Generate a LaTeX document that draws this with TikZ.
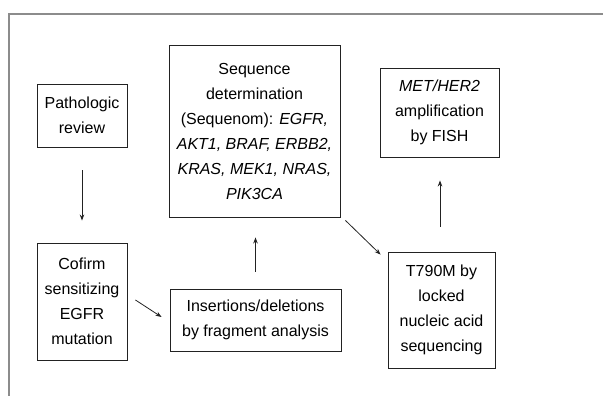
\documentclass[tikz,border=0pt]{standalone}
\usepackage{fontspec}
\setmainfont{Liberation Sans}
\usetikzlibrary{arrows.meta,calc}
\definecolor{framegray}{HTML}{8C8C8C}
\definecolor{boxline}{HTML}{222222}
\begin{document}
\begin{tikzpicture}[x=1pt,y=1pt,
  stepbox/.style={draw=boxline,line width=0.9pt,fill=white,align=center,
    inner sep=0pt,font=\fontsize{16}{25}\selectfont},
  flow/.style={draw=boxline,line width=0.8pt,-{Stealth[length=6pt,width=4.5pt]}}]
\useasboundingbox (0,0) rectangle (603,396);
% outer frame (top and left edges)
\draw[framegray,line width=2pt] (9,0) -- (9,382) -- (603,382);
% process steps
\node[stepbox,minimum width=90pt,minimum height=63pt] (path) at (82,280.5)
  {Pathologic\\review};
\node[stepbox,minimum width=90pt,minimum height=117pt] (cof) at (82,94.5)
  {Cofirm\\sensitizing\\EGFR\\mutation};
\node[stepbox,minimum width=171pt,minimum height=172pt] (seq) at (254.5,265)
  {Sequence\\determination\\(Sequenom): \textit{EGFR,}\\\textit{AKT1, BRAF, ERBB2,}\\\textit{KRAS, MEK1, NRAS,}\\\textit{PIK3CA}};
\node[stepbox,minimum width=119pt,minimum height=89pt] (met) at (439.5,283.5)
  {\textit{MET/HER2}\\amplification\\by FISH};
\node[stepbox,minimum width=171pt,minimum height=62pt] (ins) at (255.5,76)
  {Insertions/deletions\\by fragment analysis};
\node[stepbox,minimum width=107pt,minimum height=116pt] (t790) at (441.5,86)
  {T790M by\\locked\\nucleic acid\\sequencing};
% connectors
\draw[flow,shorten <=23pt,shorten >=22pt] (path.south) -- (cof.north);
\draw[flow] ($(cof.east)+(8,1.5)$) -- ($(ins.west)+(-8,3)$);
\draw[flow,shorten <=17pt,shorten >=20pt] (ins.north) -- (ins.north |- seq.south);
\draw[flow] ($(seq.south east)+(5,-3)$) -- ($(t790.north west)+(-7,-3)$);
\draw[flow,shorten <=25pt,shorten >=23pt] (t790.north -| 440,0) -- (met.south -| 440,0);
\end{tikzpicture}
\end{document}
